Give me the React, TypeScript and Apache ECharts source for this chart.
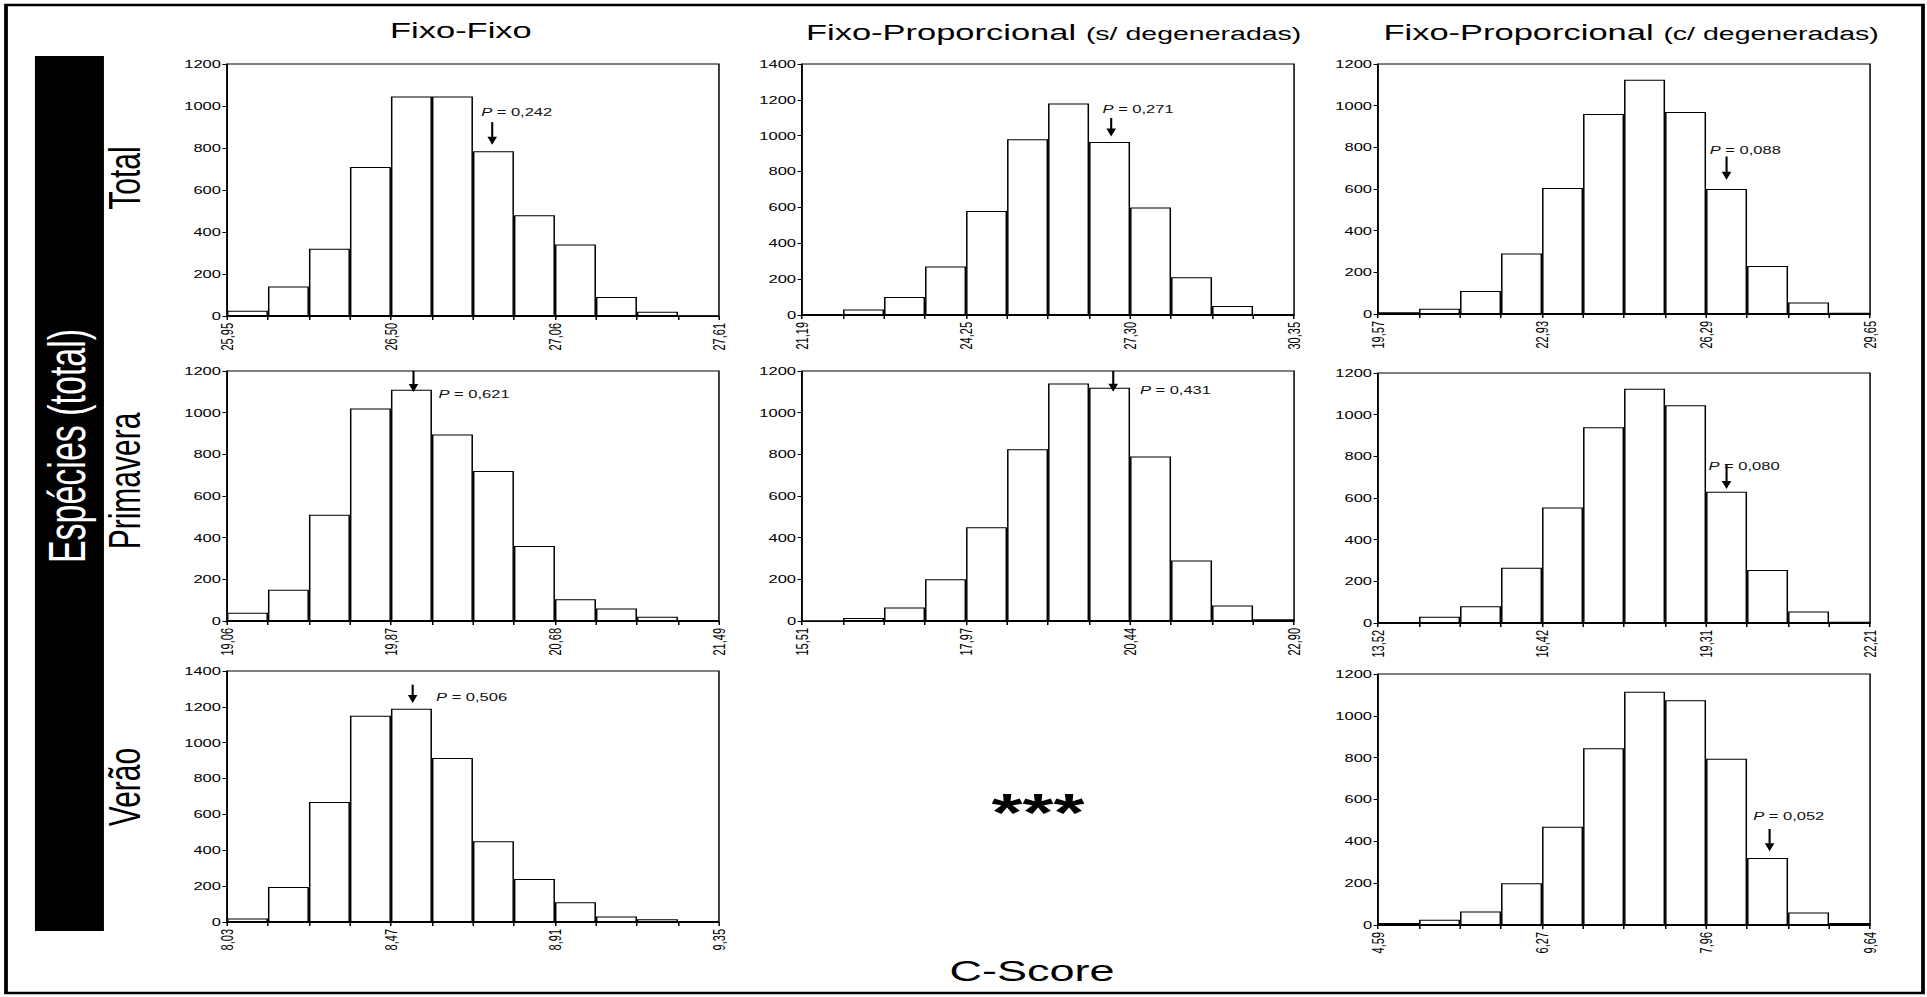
import React, { useEffect, useRef } from "react";
import * as echarts from "echarts";

// The reference figure is horizontally stretched; the chart is laid out in a
// narrower logical space and stretched back with a CSS scaleX.
const STRETCH = 1.5;
const LOGICAL_W = 1285;
const LOGICAL_H = 997;
const FONT = '"Liberation Sans", Arial, sans-serif';

// ---- data (12 bins per histogram) ----
const ffTotal = [25, 140, 320, 710, 1045, 1045, 785, 480, 340, 90, 20, 2];
const ffTotalTicks = ["25,95", "26,50", "27,06", "27,61"];
const fpsTotal = [5, 30, 100, 270, 580, 980, 1180, 965, 600, 210, 50, 5];
const fpsTotalTicks = ["21,19", "24,25", "27,30", "30,35"];
const fpcTotal = [8, 25, 110, 290, 605, 960, 1125, 970, 600, 230, 55, 6];
const fpcTotalTicks = ["19,57", "22,93", "26,29", "29,65"];

const ffPrim = [40, 150, 510, 1020, 1110, 895, 720, 360, 105, 60, 20, 5];
const ffPrimTicks = ["19,06", "19,87", "20,68", "21,49"];
const fpsPrim = [0, 15, 65, 200, 450, 825, 1140, 1120, 790, 290, 75, 8];
const fpsPrimTicks = ["15,51", "17,97", "20,44", "22,90"];
const fpcPrim = [5, 30, 80, 265, 555, 940, 1125, 1045, 630, 255, 55, 6];
const fpcPrimTicks = ["13,52", "16,42", "19,31", "22,21"];

const ffVerao = [20, 195, 670, 1150, 1190, 915, 450, 240, 110, 30, 15, 5];
const ffVeraoTicks = ["8,03", "8,47", "8,91", "9,35"];
const fpcVerao = [10, 25, 65, 200, 470, 845, 1115, 1075, 795, 320, 60, 10];
const fpcVeraoTicks = ["4,59", "6,27", "7,96", "9,64"];

const yMaxes = [1200, 1400, 1200, 1200, 1200, 1200, 1400, 1200];
const pValues = ["0,242", "0,271", "0,088", "0,621", "0,431", "0,080", "0,506", "0,052"];
// arrow: [bin position, tip value, tail value]; label: [bin position, value]
const arrows = [
  [6.47, 816, 923],
  [7.54, 996, 1099],
  [8.5, 644, 756],
  [4.55, 1099, 1200],
  [7.59, 1101, 1200],
  [8.5, 643, 759],
  [4.53, 1222, 1324],
  [9.55, 352, 459],
];
const labels = [
  [6.2, 971],
  [7.33, 1151],
  [8.09, 788],
  [5.16, 1088],
  [8.24, 1109],
  [8.06, 754],
  [5.1, 1253],
  [9.15, 523],
];

const columnTitles = ["Fixo-Fixo", "Fixo-Proporcional", "Fixo-Proporcional"];
const columnSubtitles = ["", "(s/ degeneradas)", "(c/ degeneradas)"];
const rowTitles = ["Total", "Primavera", "Verão"];
const sideTitle = "Espécies (total)";
const xTitle = "C-Score";
const missingMark = "***";

const histValues = [ffTotal, fpsTotal, fpcTotal, ffPrim, fpsPrim, fpcPrim, ffVerao, fpcVerao];
const histTicks = [
  ffTotalTicks, fpsTotalTicks, fpcTotalTicks,
  ffPrimTicks, fpsPrimTicks, fpcPrimTicks,
  ffVeraoTicks, fpcVeraoTicks,
];

// ---- layout (logical px) ----
const boxes = [
  [151.3, 64, 328, 252],
  [534.7, 64, 328, 251],
  [918.7, 64, 328, 250],
  [151.3, 371, 328, 250],
  [534.7, 371, 328, 250],
  [918.7, 373, 328, 250],
  [151.3, 671, 328, 251],
  [918.7, 674, 328, 251],
];

function buildOption() {
  const grid: any[] = [];
  const xAxis: any[] = [];
  const yAxis: any[] = [];
  const series: any[] = [];

  histValues.forEach((vals, i) => {
    const [l, t, w, h] = boxes[i];
    grid.push({
      left: l, top: t, width: w, height: h,
      show: true, borderColor: "#000", borderWidth: 1, backgroundColor: "transparent",
    });
    const ticks = histTicks[i];
    xAxis.push({
      type: "category", gridIndex: i, boundaryGap: true,
      data: vals.map((_, k) => String(k + 1)),
      axisLine: { show: true, lineStyle: { color: "#000", width: 1 } },
      axisTick: { show: true, interval: 0, alignWithLabel: false, length: 4, lineStyle: { color: "#000" } },
      axisLabel: { show: false },
      splitLine: { show: false },
    });
    xAxis.push({
      type: "value", gridIndex: i, min: 0, max: vals.length, interval: 4, position: "bottom",
      axisLine: { show: false }, axisTick: { show: false }, splitLine: { show: false },
      axisLabel: {
        show: true, rotate: 90, fontSize: 11, color: "#000", margin: 7, fontFamily: FONT,
        showMinLabel: true, showMaxLabel: true,
        formatter: (v: number) => ticks[Math.round(v / 4)] ?? "",
      },
    });
    yAxis.push({
      type: "value", gridIndex: i, min: 0, max: yMaxes[i], interval: 200,
      axisLine: { show: true, lineStyle: { color: "#000", width: 1 } },
      axisTick: { show: true, length: 3, lineStyle: { color: "#000" } },
      axisLabel: {
        fontSize: 11, color: "#000", margin: 4, fontFamily: FONT,
        formatter: (v: number) => String(v),
      },
      splitLine: { show: false },
    });
    series.push({
      type: "bar", xAxisIndex: 2 * i, yAxisIndex: i, data: vals,
      barCategoryGap: "0%", barGap: "0%", silent: true, z: 2,
      itemStyle: { color: "#fff", borderColor: "#000", borderWidth: 1 },
    });
    const pText = pValues[i];
    series.push({
      type: "custom", xAxisIndex: 2 * i + 1, yAxisIndex: i, clip: false, silent: true, z: 5,
      data: [[arrows[i][0], arrows[i][1], arrows[i][2], labels[i][0], labels[i][1]]],
      renderItem: (_p: any, api: any) => {
        const tip = api.coord([api.value(0), api.value(1)]);
        const tail = api.coord([api.value(0), api.value(2)]);
        const lab = api.coord([api.value(3), api.value(4)]);
        const headH = 8;
        return {
          type: "group",
          children: [
            {
              type: "line",
              shape: { x1: tip[0], y1: tail[1], x2: tip[0], y2: tip[1] - headH + 1 },
              style: { stroke: "#000", lineWidth: 1.4 },
            },
            {
              type: "polygon",
              shape: { points: [[tip[0] - 3.2, tip[1] - headH], [tip[0] + 3.2, tip[1] - headH], [tip[0], tip[1]]] },
              style: { fill: "#000" },
            },
            {
              type: "text",
              x: lab[0], y: lab[1],
              style: {
                text: "{i|P} = " + pText,
                rich: { i: { fontStyle: "italic", fontSize: 11, fontFamily: FONT, fill: "#111" } },
                fontSize: 11, fontFamily: FONT, fill: "#111",
                align: "left", verticalAlign: "middle",
                textAlign: "left", textVerticalAlign: "middle",
              },
            },
          ],
        };
      },
    });
  });

  const textStyle = (extra: any) => ({
    fill: "#000", fontFamily: FONT, align: "center", verticalAlign: "middle",
    textAlign: "center", textVerticalAlign: "middle", ...extra,
  });

  const rowCenters = [178, 481, 787];
  const graphic: any[] = [
    {
      type: "rect", silent: true, z: 0,
      shape: { x: 4, y: 5, width: 1278, height: 988 },
      style: { fill: "none", stroke: "#000", lineWidth: 2.5 },
    },
    {
      type: "rect", silent: true, z: 1,
      shape: { x: 23.3, y: 56, width: 46, height: 875 },
      style: { fill: "#000" },
    },
    {
      type: "text", x: 45, y: 446, rotation: Math.PI / 2, z: 2,
      style: textStyle({ text: sideTitle, fill: "#fff", fontSize: 34 }),
    },
    ...rowTitles.map((t, k) => ({
      type: "text", x: 83, y: rowCenters[k], rotation: Math.PI / 2, z: 2,
      style: textStyle({ text: t, fontSize: 30 }),
    })),
    {
      type: "text", x: 260, y: 30, z: 2,
      style: textStyle({ text: columnTitles[0], fontSize: 23, align: "left", textAlign: "left" }),
    },
    ...[1, 2].map((c) => ({
      type: "text", x: c === 1 ? 537.3 : 922.3, y: 30, z: 2,
      style: textStyle({
        text: "{a|" + columnTitles[c] + "} {b|" + columnSubtitles[c] + "}",
        fontSize: 23, align: "left", textAlign: "left",
        rich: {
          a: { fontSize: 23, fontFamily: FONT, fill: "#000", verticalAlign: "bottom", lineHeight: 26 },
          b: { fontSize: 19, fontFamily: FONT, fill: "#000", verticalAlign: "bottom", lineHeight: 26 },
        },
      }),
    })),
    {
      type: "text", x: 692, y: 813, z: 2,
      style: textStyle({ text: missingMark, fontSize: 53, fontWeight: "bold" }),
    },
    {
      type: "text", x: 688, y: 970, z: 2,
      style: textStyle({ text: xTitle, fontSize: 30 }),
    },
  ];

  return {
    animation: false,
    backgroundColor: "#fff",
    textStyle: { fontFamily: FONT },
    grid, xAxis, yAxis, series, graphic,
  };
}

export default function App() {
  const ref = useRef<HTMLDivElement>(null);
  useEffect(() => {
    document.body.style.margin = "0";
    document.body.style.overflow = "hidden";
    if (!ref.current) return;
    const chart = echarts.init(ref.current, undefined, { renderer: "svg" });
    chart.setOption(buildOption() as any);
    return () => chart.dispose();
  }, []);
  return (
    <div
      ref={ref}
      style={{
        position: "fixed", left: 0, top: 0,
        width: LOGICAL_W, height: LOGICAL_H,
        transform: `scaleX(${STRETCH})`, transformOrigin: "0 0",
        background: "#fff",
      }}
    />
  );
}
